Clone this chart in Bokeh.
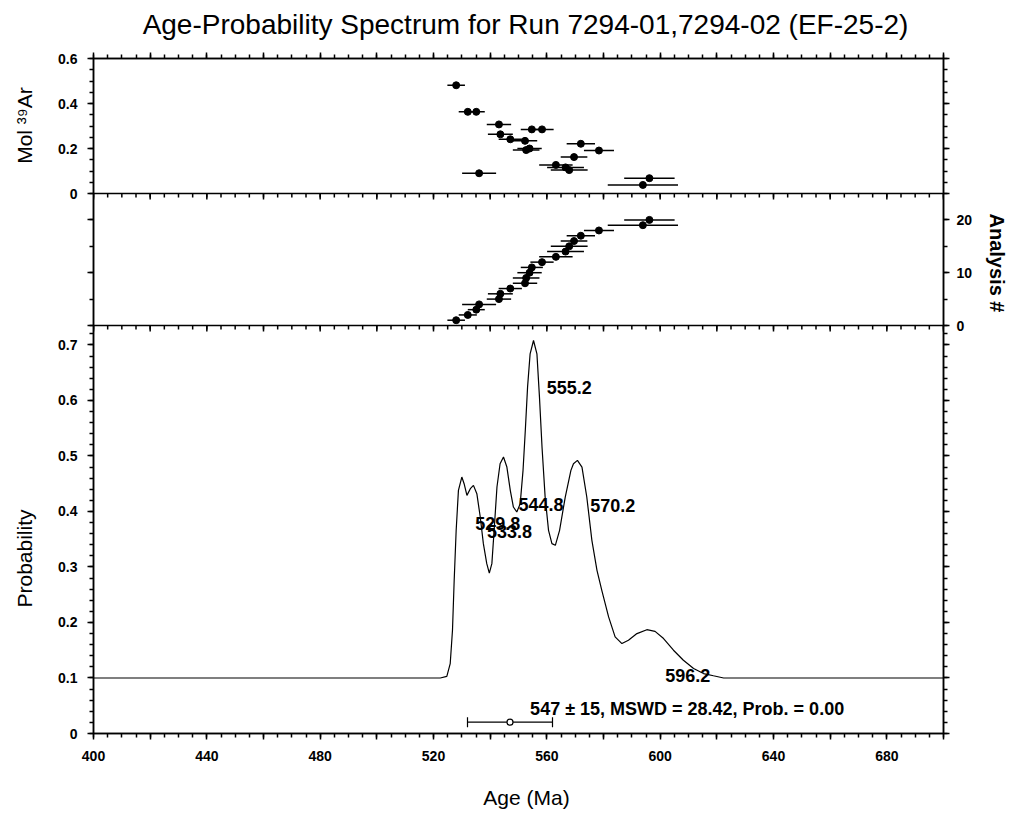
import numpy as np
from bokeh.plotting import figure
from bokeh.models import (LinearAxis, FixedTicker, CustomJSTickFormatter, Range1d,
                          ColumnDataSource, Whisker, TeeHead, Span)
from bokeh.core.properties import value
from bokeh.embed import file_html
from bokeh.resources import INLINE

# ---------------- data ----------------
title_text = "Age-Probability Spectrum for Run 7294-01,7294-02 (EF-25-2)"
x_title = "Age (Ma)"
mol_title = "Mol \u00b3\u2079Ar"
an_title = "Analysis #"
prob_title = "Probability"

ages = [528.0, 532.1, 535.1, 536.1, 543.1, 543.6, 547.1, 552.3, 552.7, 553.9,
        554.7, 558.3, 563.2, 566.6, 567.9, 569.6, 572.0, 578.4, 593.9, 596.2]
age_err = [3.1, 3.2, 3.0, 6.0, 4.3, 4.4, 4.1, 4.3, 4.7, 4.3,
           3.9, 4.1, 5.9, 6.5, 6.5, 4.7, 5.0, 5.3, 12.4, 8.9]
mol39 = [0.481, 0.363, 0.363, 0.090, 0.307, 0.263, 0.241, 0.234, 0.193, 0.200,
         0.285, 0.285, 0.127, 0.116, 0.104, 0.162, 0.221, 0.191, 0.038, 0.068]
analysis = [1, 2, 3, 4, 5, 6, 7, 8, 9, 10, 11, 12, 13, 14, 15, 16, 17, 18, 19, 20]

curve_age = [400.0, 522.4, 524.7, 525.9, 526.7, 527.3, 528.0, 528.8, 530.0, 530.8,
             531.8, 533.0, 534.1, 535.3, 536.5, 537.6, 538.8, 539.7, 540.6, 541.4,
             542.4, 543.5, 544.7, 545.9, 547.1, 548.2, 549.4, 550.6, 551.6, 552.4,
             553.2, 554.1, 555.3, 556.5, 557.4, 558.3, 559.4, 560.6, 561.8, 563.0,
             564.5, 566.5, 568.5, 569.4, 570.8, 572.4, 574.1, 575.9, 577.7, 579.4,
             581.8, 584.1, 586.5, 588.8, 591.8, 595.3, 598.2, 601.2, 604.7, 608.2,
             611.8, 615.3, 618.8, 622.4, 700.0]
curve_prob = [0.100, 0.100, 0.103, 0.126, 0.186, 0.276, 0.366, 0.438, 0.462, 0.450,
              0.429, 0.441, 0.447, 0.432, 0.390, 0.342, 0.306, 0.289, 0.306, 0.366,
              0.444, 0.486, 0.498, 0.480, 0.438, 0.408, 0.399, 0.414, 0.474, 0.546,
              0.624, 0.684, 0.708, 0.684, 0.606, 0.516, 0.426, 0.366, 0.342, 0.339,
              0.366, 0.426, 0.474, 0.486, 0.492, 0.480, 0.426, 0.348, 0.294, 0.258,
              0.210, 0.174, 0.162, 0.168, 0.180, 0.187, 0.184, 0.171, 0.150, 0.132,
              0.117, 0.108, 0.104, 0.100, 0.100]

peak_labels = ["529.8", "533.8", "544.8", "555.2", "570.2", "596.2"]
mean_age = 547.0
mean_err = 15.0
summary_text = "547 \u00b1 15, MSWD = 28.42, Prob. = 0.00"

x_major = [400, 420, 440, 460, 480, 500, 520, 540, 560, 580, 600, 620, 640, 660, 680, 700]
mol_major = [0, 0.2, 0.4, 0.6]
an_major = [0, 10, 20]
prob_major = [0, 0.1, 0.2, 0.3, 0.4, 0.5, 0.6, 0.7]

# ---------------- layout of the three stacked panels ----------------
FONT = "Liberation Sans"
LW = 1.5
H_TOP, H_MID, H_BOT = 135, 132, 408          # panel heights in px
FRAME_TOP = 58
PROB_MAX = 0.735                              # top of probability panel
PPX = PROB_MAX / H_BOT                        # prob units per pixel
B0 = PROB_MAX                                 # bottom of middle panel (main coords)
B1 = B0 + H_MID * PPX                         # bottom of top panel
YMAX = B1 + H_TOP * PPX                       # top of frame
MOL_MAX, AN_MAX = 0.6, 25.0
S_MOL = MOL_MAX / (YMAX - B1)                 # mol units per main unit
S_AN = AN_MAX / (B1 - B0)

x_minor = list(np.arange(400, 701, 5))
prob_minor = list(np.round(np.arange(0, 0.721, 0.02), 4))
an_minor = list(np.arange(0, 26, 5))
mol_minor = list(np.round(np.arange(0, 0.601, 0.05), 4))

side_major = (prob_major + [B0 + a / S_AN for a in an_major]
              + [B1 + m / S_MOL for m in mol_major])
side_minor = (prob_minor + [B0 + a / S_AN for a in an_minor]
              + [B1 + m / S_MOL for m in mol_minor])

p = figure(frame_width=850, frame_height=H_TOP + H_MID + H_BOT, output_backend="svg",
           toolbar_location=None, x_axis_location=None, y_axis_location=None,
           x_range=Range1d(400, 700), y_range=Range1d(0, YMAX),
           min_border_left=93, min_border_right=66, min_border_top=FRAME_TOP,
           min_border_bottom=80)
p.extra_y_ranges = {"mol": Range1d(-B1 * S_MOL, MOL_MAX),
                    "an": Range1d(-B0 * S_AN, (YMAX - B0) * S_AN)}
p.xgrid.visible = False
p.ygrid.visible = False
p.outline_line_color = "black"
p.outline_line_width = LW
p.border_fill_color = "white"

empty_fmt = CustomJSTickFormatter(code="return '';")
left_fmt = CustomJSTickFormatter(args=dict(b0=B0, b1=B1, smol=S_MOL), code="""
if (tick < b0 - 1e-6) { return Math.abs(tick) < 1e-9 ? '0' : tick.toFixed(1); }
if (tick > b1 - 1e-6) { const m = (tick - b1) * smol; return Math.abs(m) < 1e-6 ? '0' : m.toFixed(1); }
return '';
""")
right_fmt = CustomJSTickFormatter(args=dict(b0=B0, b1=B1, san=S_AN), code="""
if (tick > b0 - 1e-6 && tick < b1 - 1e-6) {
  const a = Math.round((tick - b0) * san);
  return (a % 10 == 0) ? a.toFixed(0) : '';
}
return '';
""")
x_fmt = CustomJSTickFormatter(code="return (Math.round(tick) % 40 == 0) ? tick.toFixed(0) : '';")


def make_axis(major, minor, fmt, standoff=10, label_size="14px"):
    ax = LinearAxis(ticker=FixedTicker(ticks=major, minor_ticks=minor), formatter=fmt)
    ax.axis_line_width = LW
    ax.axis_line_color = "black"
    ax.major_tick_line_width = LW
    ax.minor_tick_line_width = LW
    ax.major_tick_line_color = "black"
    ax.minor_tick_line_color = "black"
    ax.major_tick_in = 0
    ax.major_tick_out = 6
    ax.minor_tick_in = 0
    ax.minor_tick_out = 4
    ax.major_label_text_font = FONT
    ax.major_label_text_font_style = "bold"
    ax.major_label_text_font_size = label_size
    ax.major_label_text_color = "black"
    ax.major_label_standoff = standoff
    return ax


def title_axis(positions, texts, orientation, standoff, size="21px", style="normal"):
    """An axis without line/ticks that only carries a side title at a chosen position."""
    fmt = CustomJSTickFormatter(args=dict(pos=positions, txt=texts), code="""
let best = 0;
for (let i = 0; i < pos.length; i++) { if (Math.abs(pos[i] - tick) < Math.abs(pos[best] - tick)) best = i; }
return txt[best];
""")
    ax = LinearAxis(ticker=FixedTicker(ticks=positions, minor_ticks=[]), formatter=fmt)
    ax.axis_line_color = None
    ax.major_tick_line_color = None
    ax.minor_tick_line_color = None
    ax.major_tick_in = 0
    ax.major_tick_out = 0
    ax.minor_tick_in = 0
    ax.minor_tick_out = 0
    ax.major_label_orientation = orientation
    ax.major_label_text_font = FONT
    ax.major_label_text_font_size = size
    ax.major_label_text_font_style = style
    ax.major_label_text_color = "black"
    ax.major_label_standoff = standoff
    return ax


def px_to_x(px):
    return 400 + (px - 93) * 300 / 850


def px_to_y(py):
    return (FRAME_TOP + H_TOP + H_MID + H_BOT - py) * PPX


p.add_layout(make_axis(x_major, x_minor, empty_fmt, standoff=0, label_size="1px"), "above")
p.add_layout(make_axis(x_major, x_minor, x_fmt, standoff=11), "below")
p.add_layout(make_axis(side_major, side_minor, left_fmt, standoff=10), "left")
p.add_layout(make_axis(side_major, side_minor, right_fmt, standoff=7), "right")

# titles
p.add_layout(title_axis([px_to_x(525)], [title_text], "horizontal", 13, size="28px"), "above")
p.add_layout(title_axis([px_to_x(526)], [x_title], "horizontal", 22), "below")
p.add_layout(title_axis([px_to_y(558), px_to_y(125)], [prob_title, mol_title], "vertical", 20), "left")
p.add_layout(title_axis([px_to_y(213)], [an_title], -np.pi / 2, 21, size="20px", style="bold"), "right")

# panel separators with their downward ticks
for yb in (B0, B1):
    p.add_layout(Span(location=yb, dimension="width", line_color="black", line_width=LW))
    p.segment(x0=x_major, x1=x_major, y0=[yb] * len(x_major), y1=[yb - 6 * PPX] * len(x_major),
              line_color="black", line_width=LW)
    p.segment(x0=x_minor, x1=x_minor, y0=[yb] * len(x_minor), y1=[yb - 4 * PPX] * len(x_minor),
              line_color="black", line_width=LW)

# ---------------- data marks ----------------
err_lo = [a - e for a, e in zip(ages, age_err)]
err_hi = [a + e for a, e in zip(ages, age_err)]
src = ColumnDataSource(dict(age=ages, lo=err_lo, hi=err_hi, mol=mol39, an=analysis))

p.segment(x0="lo", x1="hi", y0="mol", y1="mol", source=src, line_color="black",
          line_width=1.5, y_range_name="mol")
p.scatter(x="age", y="mol", source=src, size=7, color="black", y_range_name="mol")

p.segment(x0="lo", x1="hi", y0="an", y1="an", source=src, line_color="black",
          line_width=1.5, y_range_name="an")
p.scatter(x="age", y="an", source=src, size=7, color="black", y_range_name="an")

p.line(curve_age, curve_prob, line_color="black", line_width=1.2)

lab_x = [534.7, 538.9, 550.0, 560.0, 575.3, 601.8]
lab_y = [0.378, 0.363, 0.413, 0.624, 0.410, 0.104]
p.text(x=lab_x, y=lab_y, text=peak_labels, text_font=value(FONT), text_font_style="bold",
       text_font_size="18px", text_baseline="middle", text_align="left", text_color="black")
p.text(x=[554.1], y=[0.0445], text=[summary_text], text_font=value(FONT), text_font_style="bold",
       text_font_size="18px", text_baseline="middle", text_align="left", text_color="black")

msrc = ColumnDataSource(dict(base=[0.0204], lower=[mean_age - mean_err], upper=[mean_age + mean_err]))
p.add_layout(Whisker(source=msrc, base="base", lower="lower", upper="upper", dimension="width",
                     line_width=1.2, line_color="black",
                     lower_head=TeeHead(size=10, line_width=1.2, line_color="black"),
                     upper_head=TeeHead(size=10, line_width=1.2, line_color="black")))
p.scatter(x=[mean_age], y=[0.0204], size=6, marker="circle", fill_color="white",
          line_color="black", line_width=1.2)

open("out.html", "w").write(file_html(p, INLINE))
